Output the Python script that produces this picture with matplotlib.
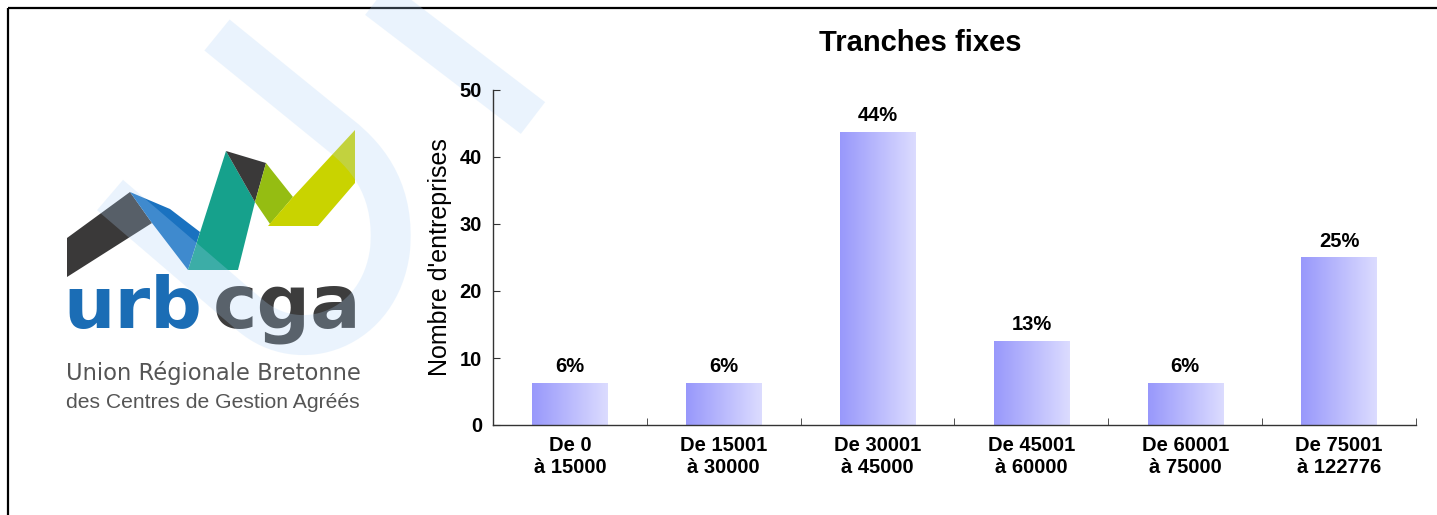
import numpy as np
import matplotlib
matplotlib.use("Agg")
import matplotlib.pyplot as plt
from matplotlib.colors import LinearSegmentedColormap
from matplotlib.path import Path
from matplotlib.patches import PathPatch, Polygon

categories = ["De 0\nà 15000", "De 15001\nà 30000", "De 30001\nà 45000",
              "De 45001\nà 60000", "De 60001\nà 75000", "De 75001\nà 122776"]
values = [6.25, 6.25, 43.75, 12.5, 6.25, 25]
pct_labels = ["6%", "6%", "44%", "13%", "6%", "25%"]

W, H = 1437, 515
fig = plt.figure(figsize=(W / 100, H / 100), dpi=100)

# background layer in pixel coords : border, logo, watermark
bg = fig.add_axes([0, 0, 1, 1])
bg.set_xlim(0, W)
bg.set_ylim(H, 0)
bg.axis("off")

bg.plot([8, 8], [H, 8], color="black", lw=1.6, solid_capstyle="butt")
bg.plot([8, W], [8, 8], color="black", lw=1.6, solid_capstyle="butt")

# logo shapes
shapes = [
    ([(67, 238), (130, 192), (152, 223), (67, 277)], "#3a3939"),
    ([(130, 192), (170, 209), (200, 232), (188, 270), (152, 223)], "#1a72c0"),
    ([(188, 270), (226, 151), (255, 202), (238, 270)], "#16a18c"),
    ([(226, 151), (266, 163), (255, 202)], "#3a3939"),
    ([(266, 163), (293, 197), (270, 224), (255, 202)], "#95bd12"),
    ([(268, 226), (318, 226), (355, 183), (355, 130), (293, 197)], "#c9d300"),
]
for pts, col in shapes:
    bg.add_patch(Polygon(pts, closed=True, color=col, lw=0, zorder=1))

bg.text(63, 328, "urb", color="#1b6db5", fontsize=52, fontweight="bold",
        family="DejaVu Sans", ha="left", va="baseline", zorder=2)
bg.text(362, 328, "cga", color="#3d3d3d", fontsize=54, fontweight="bold",
        family="DejaVu Sans", ha="right", va="baseline", zorder=2)
bg.text(66, 380, "Union Régionale Bretonne", color="#555555", fontsize=16.3,
        family="DejaVu Sans", ha="left", va="baseline", zorder=2)
bg.text(66, 408, "des Centres de Gestion Agréés", color="#555555", fontsize=15.2,
        family="Liberation Sans", ha="left", va="baseline", zorder=2)

# watermark
wm_col = (175 / 255, 210 / 255, 248 / 255)
u_path = Path([(110, 195), (250, 315), (300, 358), (380, 330), (390, 250),
               (395, 195), (372, 160), (340, 135), (217, 35)],
              [Path.MOVETO, Path.LINETO, Path.CURVE4, Path.CURVE4, Path.CURVE4,
               Path.CURVE4, Path.CURVE4, Path.CURVE4, Path.LINETO])
bg.add_patch(PathPatch(u_path, fill=False, edgecolor=wm_col, alpha=0.25,
                       lw=28.8, capstyle="butt", joinstyle="round", zorder=3))
bg.plot([372, 533], [-5, 118], color=wm_col, alpha=0.25, lw=28.8,
        solid_capstyle="butt", zorder=3)

# bar chart
ax = fig.add_axes([493 / W, 1 - 425 / H, 923 / W, 335 / H], zorder=5)
ax.patch.set_alpha(0)

cmap = LinearSegmentedColormap.from_list("grad", ["#9898fb", "#dcdcff"])
grad = np.linspace(0, 1, 256).reshape(1, -1)
x = np.arange(len(categories))
bars = ax.bar(x, values, width=0.49, color="none", edgecolor="none")
for b in bars:
    im = ax.imshow(grad, cmap=cmap, aspect="auto", zorder=2,
                   extent=[b.get_x(), b.get_x() + b.get_width(), 0, b.get_height()])
    im.set_clip_path(b)

for xi, v, lab in zip(x, values, pct_labels):
    ax.annotate(lab, (xi, v), xytext=(0, 5), textcoords="offset points",
                ha="center", va="bottom", fontsize=14.5, fontweight="bold",
                family="Liberation Sans")

ax.set_xlim(-0.5, len(categories) - 0.5)
ax.set_ylim(0, 50)
ax.set_yticks([0, 10, 20, 30, 40, 50])
ax.set_xticks(x)
ax.set_xticklabels(categories, fontsize=14.5, fontweight="bold",
                   family="Liberation Sans", linespacing=1.2)
ax.set_xticks(np.arange(len(categories) + 1) - 0.5, minor=True)
ax.tick_params(axis="x", which="major", length=0, pad=8)
ax.tick_params(axis="x", which="minor", length=5, direction="in", color="#333333")
ax.tick_params(axis="y", length=5, direction="in", pad=8, color="#333333")
for t in ax.get_yticklabels():
    t.set_fontsize(14.5)
    t.set_fontweight("bold")
    t.set_family("Liberation Sans")

for s in ["top", "right"]:
    ax.spines[s].set_visible(False)
for s in ["left", "bottom"]:
    ax.spines[s].set_color("#333333")
    ax.spines[s].set_linewidth(1.0)

ax.set_ylabel("Nombre d'entreprises", fontsize=18, family="Liberation Sans")
ax.yaxis.set_label_coords(-0.044, 0.5)

fig.text(920 / W, 1 - 51 / H, "Tranches fixes", fontsize=21, fontweight="bold",
         family="Liberation Sans", ha="center", va="baseline")

fig.savefig("out.png", dpi=100)
